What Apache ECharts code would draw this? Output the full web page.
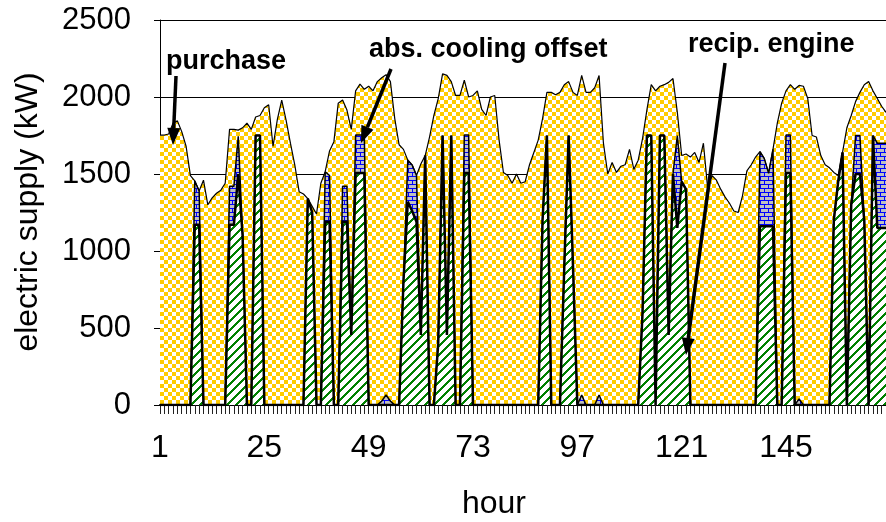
<!DOCTYPE html>
<html>
<head>
<meta charset="utf-8">
<script src="https://cdn.jsdelivr.net/npm/echarts@6/dist/echarts.min.js"></script>
<style>
  html, body { margin: 0; padding: 0; background: #fff; }
  #chart { width: 886px; height: 522px; }
</style>
</head>
<body>
<div id="chart"></div>
<script>
// Hour of the week (1..168)
const hours = Array.from({ length: 168 }, (_, i) => String(i + 1));

// Reciprocating engine output, kW
const engine = [
  0,0,0,0,0,0,0,0,1170,1170,0,0,0,0,0,0,1170,1170,1500,1100,0,0,1750,1750,
  0,0,0,0,0,0,0,0,0,0,1340,1250,0,0,1190,1190,0,0,1190,1190,455,1506,1506,1506,
  0,0,0,0,0,0,0,0,800,1320,1260,1190,455,1620,0,0,400,1750,455,1750,0,0,1506,1506,
  0,0,0,0,0,0,0,0,0,0,0,0,0,0,0,0,1200,1750,0,0,0,900,1750,900,
  0,0,0,0,0,0,0,0,0,0,0,0,0,0,0,600,1750,1750,0,1750,1750,455,1500,1150,
  1450,1400,0,0,0,0,0,0,0,0,0,0,0,0,0,0,0,0,1160,1160,1160,1160,0,0,
  1506,1506,0,0,0,0,0,0,0,0,0,1200,1450,1640,0,1300,1500,1500,1200,0,1750,1150,1150,1150
];

// Absorption cooling offset, kW
const coolingOffset = [
  0,0,0,0,0,0,0,0,285,220,0,0,0,0,0,0,250,250,245,0,0,0,0,0,
  0,0,0,0,0,0,0,0,0,0,0,0,0,0,325,300,0,0,230,230,0,247,247,247,
  0,0,0,25,65,25,0,0,0,270,298,300,0,0,0,0,0,0,0,0,0,0,247,247,
  0,0,0,0,0,0,0,0,0,0,0,0,0,0,0,0,0,0,0,0,0,0,0,0,
  0,65,0,0,0,65,0,0,0,0,0,0,0,0,0,0,0,0,0,0,0,95,0,600,
  0,0,0,0,0,0,0,0,0,0,0,0,0,0,0,0,0,0,485,440,344,500,0,0,
  247,247,0,40,0,0,0,0,0,0,0,0,0,0,0,0,250,250,0,0,0,550,550,550
];

// Purchased electricity, kW
const purchase = [
  1753,1753,1760,1830,1845,1775,1680,1490,0,0,1460,1300,1345,1375,1395,1440,370,370,40,700,1830,1790,120,130,
  1930,1950,1680,1855,1980,1850,1700,1560,1385,1370,0,40,1240,1440,0,160,1710,1960,560,495,1335,287,331,297,
  2070,2040,2100,2100,2080,2075,1860,1690,860,0,0,0,1110,0,1740,1880,1590,400,1685,350,2010,2010,357,247,
  2010,2040,1920,1880,2000,2010,1720,1510,1490,1440,1500,1440,1450,1560,1640,1720,660,280,2030,2015,2030,1180,350,1130,
  2010,2075,2030,2030,2060,2075,1700,1500,1575,1510,1550,1560,1660,1530,1590,1130,166,330,2040,320,330,1545,620,150,
  170,230,1610,1640,1575,1700,1400,1490,1460,1400,1350,1310,1260,1250,1360,1520,1560,1610,0,0,0,0,1830,1960,
  287,327,2050,2035,2070,1990,1750,1740,1620,1560,1540,310,40,0,1800,580,220,280,880,2100,290,290,240,200
];

const FONT = '"Liberation Sans", Arial, Helvetica, sans-serif';

// Small repeating fill tiles
function makeTile(size, paint) {
  const c = document.createElement('canvas');
  c.width = size; c.height = size;
  paint(c.getContext('2d'));
  return c;
}
const checkerTile = makeTile(8, g => {
  g.fillStyle = '#ffffff'; g.fillRect(0, 0, 8, 8);
  g.fillStyle = '#ffcc00'; g.fillRect(0, 0, 4, 4); g.fillRect(4, 4, 4, 4);
});
const stripeTile = makeTile(9, g => {
  g.fillStyle = '#ffffff'; g.fillRect(0, 0, 9, 9);
  g.fillStyle = '#008000';
  for (let y = 0; y < 9; y++) for (let x = 0; x < 9; x++) {
    if ((x + y) % 9 < 3) g.fillRect(x, y, 1, 1);
  }
});
const brickTile = makeTile(8, g => {
  g.fillStyle = '#c0c0c0'; g.fillRect(0, 0, 8, 8);
  g.fillStyle = '#0000ff';
  g.fillRect(0, 0, 8, 1); g.fillRect(0, 1, 1, 3);
  g.fillRect(0, 4, 8, 1); g.fillRect(4, 5, 1, 3);
});

// Callout arrow: shaft plus filled head ending at (x2, y2)
function arrow(x1, y1, x2, y2) {
  const dx = x2 - x1, dy = y2 - y1, len = Math.hypot(dx, dy);
  const ux = dx / len, uy = dy / len, headLen = 17, headHalf = 6.5;
  const bx = x2 - ux * headLen, by = y2 - uy * headLen;
  return [
    { type: 'line', z: 100, shape: { x1, y1, x2: bx, y2: by },
      style: { stroke: '#000', lineWidth: 3.5 } },
    { type: 'polygon', z: 100,
      shape: { points: [[x2, y2], [bx - uy * headHalf, by + ux * headHalf], [bx + uy * headHalf, by - ux * headHalf]] },
      style: { fill: '#000' } }
  ];
}

function label(text, x, y) {
  return { type: 'text', z: 100, x, y,
    style: { text, font: 'bold 27px ' + FONT, fill: '#000', align: 'left', verticalAlign: 'middle' } };
}

const chart = echarts.init(document.getElementById('chart'), null, { renderer: 'canvas' });

const areaSeries = (name, data, tile, z, lw) => ({
  name, type: 'line', stack: 'supply', data, z,
  symbol: 'none', showSymbol: false, silent: true,
  lineStyle: { color: '#000', width: lw },
  areaStyle: { color: { image: tile, repeat: 'repeat' }, opacity: 1 },
  emphasis: { disabled: true }
});

chart.setOption({
  animation: false,
  backgroundColor: '#ffffff',
  grid: { left: 160, right: -9, top: 20, bottom: 117 },
  xAxis: {
    type: 'category', data: hours, boundaryGap: false,
    axisLine: { lineStyle: { color: '#000', width: 2 } },
    axisTick: { interval: 0, length: 9, lineStyle: { color: '#222', width: 1 } },
    axisLabel: { interval: 23, fontSize: 32, color: '#000', margin: 27, fontFamily: FONT },
    splitLine: { show: false }
  },
  yAxis: {
    type: 'value', min: 0, max: 2500, interval: 500,
    axisLine: { show: true, lineStyle: { color: '#000', width: 1 } },
    axisTick: { show: true, length: 6, lineStyle: { color: '#000' } },
    axisLabel: { fontSize: 31, color: '#000', margin: 29, fontFamily: FONT,
      formatter: v => String(v) },
    splitLine: { show: true, lineStyle: { color: '#000', width: 1 } }
  },
  series: [
    areaSeries('recip. engine', engine, stripeTile, 5, 2.5),
    areaSeries('abs. cooling offset', coolingOffset, brickTile, 4, 1.5),
    areaSeries('purchase', purchase, checkerTile, 3, 1.2)
  ],
  graphic: [
    { type: 'text', z: 100, x: 28, y: 212, rotation: Math.PI / 2,
      style: { text: 'electric supply (kW)', font: '32px ' + FONT, fill: '#000', align: 'center', verticalAlign: 'middle' } },
    { type: 'text', z: 100, x: 494, y: 504,
      style: { text: 'hour', font: '32px ' + FONT, fill: '#000', align: 'center', verticalAlign: 'middle' } },
    label('purchase', 166, 62),
    label('abs. cooling offset', 369, 50),
    label('recip. engine', 688, 45),
    ...arrow(176, 76, 173, 145),
    ...arrow(391, 69, 361, 143),
    ...arrow(725, 63, 686, 355)
  ]
});
</script>
</body>
</html>
